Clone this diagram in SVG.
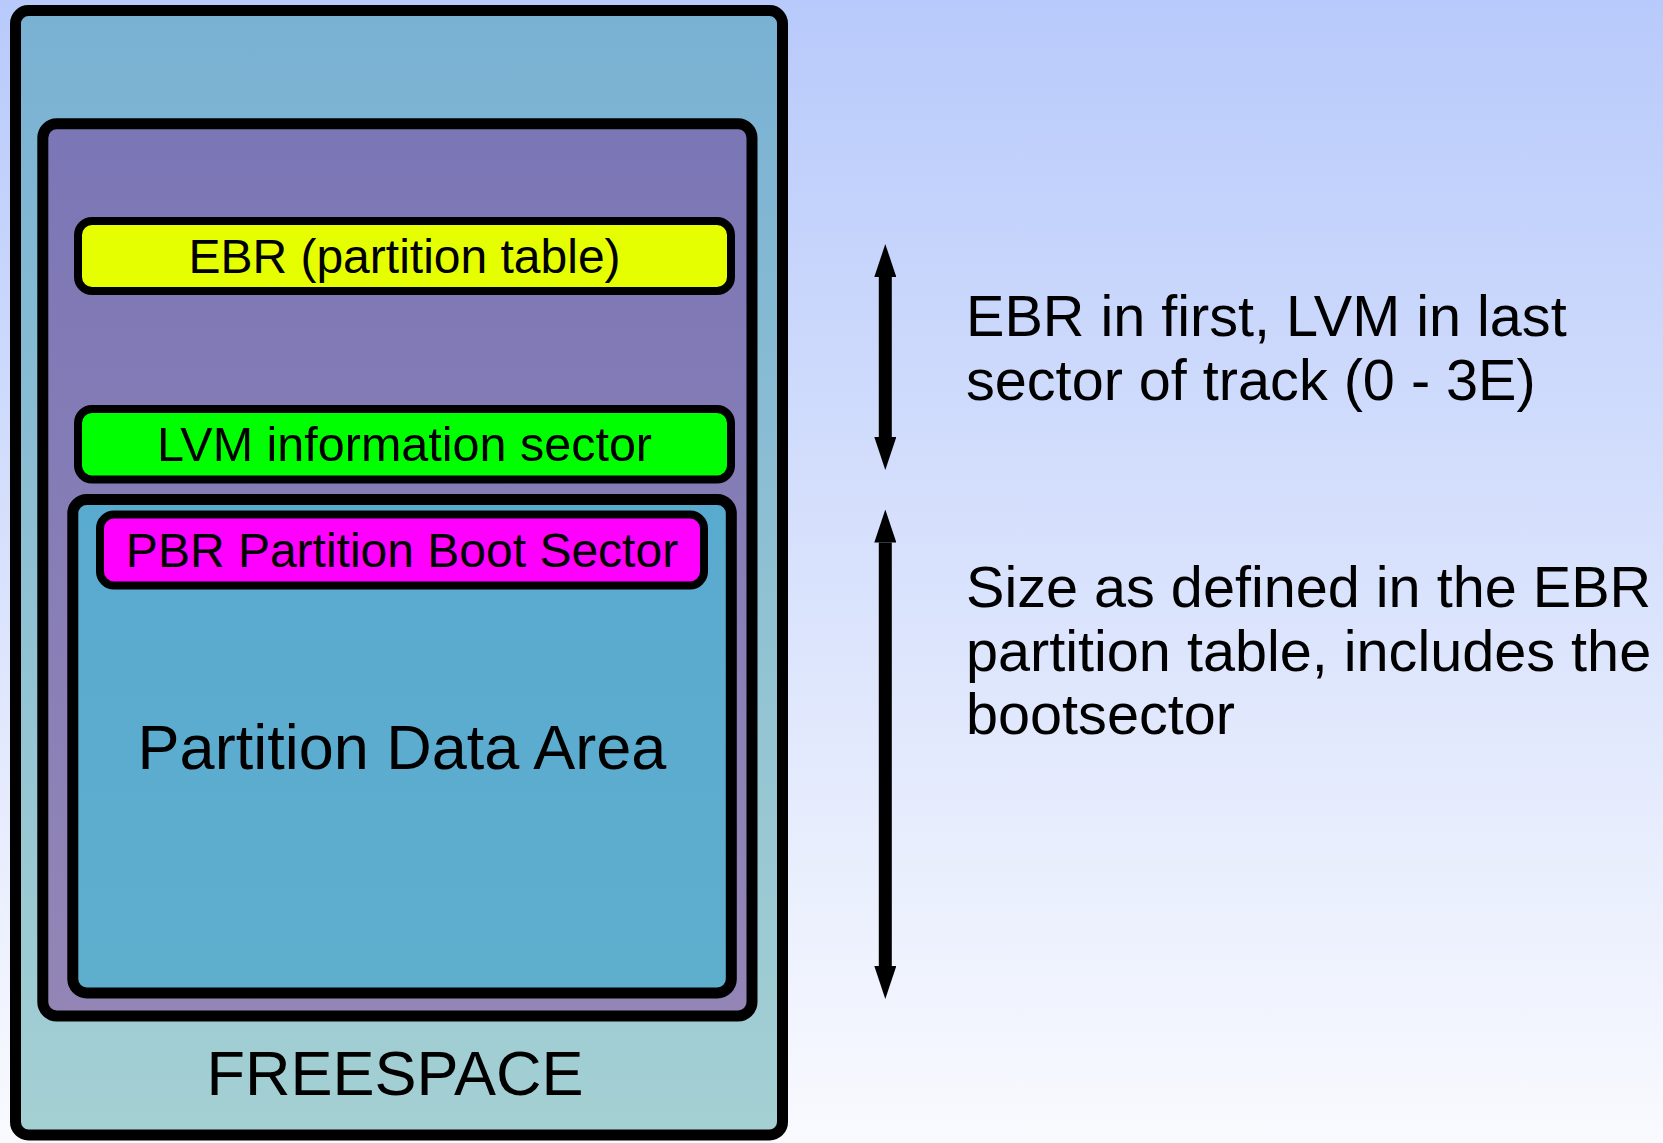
<svg xmlns="http://www.w3.org/2000/svg" width="1663" height="1143" viewBox="0 0 1663 1143">
<defs>
<linearGradient id="bg" x1="0" y1="0" x2="0" y2="1"><stop offset="0" stop-color="#B8CAFB"/><stop offset="1" stop-color="#F9FAFE"/></linearGradient>
<linearGradient id="outerFill" x1="0" y1="0" x2="0" y2="1"><stop offset="0" stop-color="#79B1D3"/><stop offset="1" stop-color="#A4D0D3"/></linearGradient>
<linearGradient id="purpleFill" x1="0" y1="0" x2="0" y2="1"><stop offset="0" stop-color="#7B76B6"/><stop offset="1" stop-color="#9386B6"/></linearGradient>
<linearGradient id="blueFill" x1="0" y1="0" x2="0" y2="1"><stop offset="0" stop-color="#59AACF"/><stop offset="1" stop-color="#5EAECE"/></linearGradient>
<marker id="ah" viewBox="0 0 33 22" refX="0" refY="11" markerWidth="33" markerHeight="22" markerUnits="userSpaceOnUse" orient="auto-start-reverse">
<path d="M0,0 L33,11 L0,22 Z" fill="#000"/>
</marker>
</defs>
<style>
.box{stroke:#000;stroke-linejoin:round}
.thick{stroke-width:11}
.thin{stroke-width:8}
text{font-family:"Liberation Sans",Arial,sans-serif;fill:#000}
.lbl{font-size:48px;text-anchor:middle}
.big{font-size:63px;text-anchor:middle}
.note{font-size:57.6px}
.arrow{stroke:#000;stroke-width:13;fill:none}
</style>
<rect x="0" y="0" width="1663" height="1143" fill="url(#bg)"/>
<g id="freespace">
<rect class="box thick" x="15.5" y="10.5" width="767" height="1124.5" rx="13" fill="url(#outerFill)"/>
<text class="big" x="395" y="1095">FREESPACE</text>
</g>
<g id="extended-partition">
<rect class="box thick" x="42.8" y="123.8" width="709.2" height="892.2" rx="14" fill="url(#purpleFill)"/>
</g>
<g id="ebr">
<rect class="box thin" x="78" y="221" width="653" height="70" rx="14" fill="#E6FF00"/>
<text class="lbl" x="404.5" y="272.5">EBR (partition table)</text>
</g>
<g id="lvm">
<rect class="box thin" x="78" y="409" width="653" height="70.5" rx="14" fill="#00FF00"/>
<text class="lbl" x="404.5" y="461" style="font-size:48.5px">LVM information sector</text>
</g>
<g id="partition-data">
<rect class="box thick" x="72.8" y="499.5" width="658.5" height="493.5" rx="14" fill="url(#blueFill)"/>
<text class="big" x="402" y="769">Partition Data Area</text>
</g>
<g id="pbr">
<rect class="box thin" x="100" y="514.5" width="604" height="71" rx="14" fill="#FF00FF"/>
<text class="lbl" x="402" y="566.5">PBR Partition Boot Sector</text>
</g>
<g id="connectors">
<line class="arrow" x1="885.3" y1="277" x2="885.3" y2="437" marker-start="url(#ah)" marker-end="url(#ah)"/>
<line class="arrow" x1="885.3" y1="542.5" x2="885.3" y2="966" marker-start="url(#ah)" marker-end="url(#ah)"/>
</g>
<g id="notes">
<text class="note" x="966" y="336">EBR in first, LVM in last</text>
<text class="note" x="966" y="400">sector of track (0 - 3E)</text>
<text class="note" x="966" y="607">Size as defined in the EBR</text>
<text class="note" x="966" y="671">partition table, includes the</text>
<text class="note" x="966" y="734">bootsector</text>
</g>
</svg>
